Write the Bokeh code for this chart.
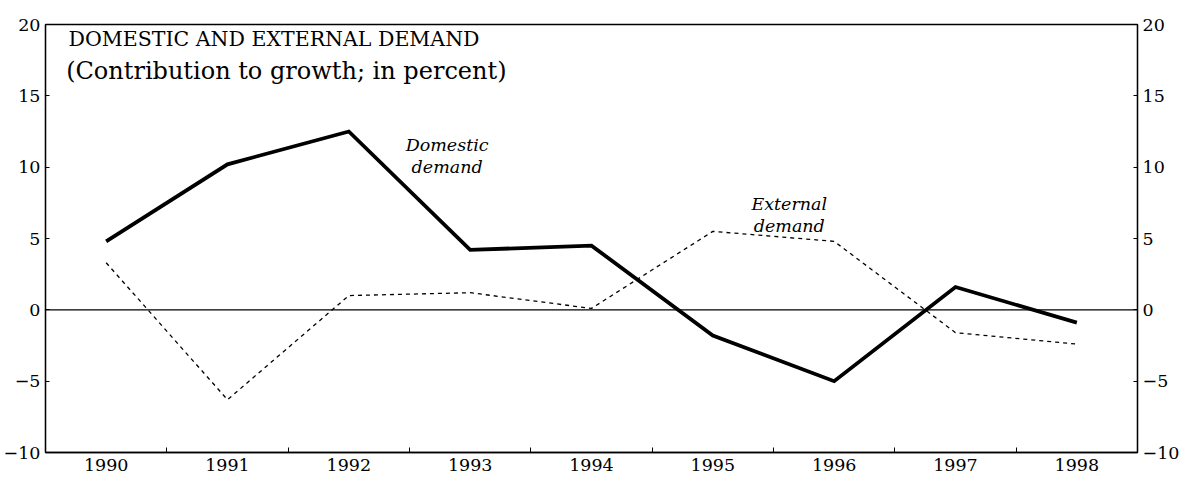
from bokeh.plotting import figure
from bokeh.models import Range1d, FixedTicker, LinearAxis, Label, Span
from bokeh.embed import file_html
from bokeh.resources import INLINE

# ---- data ----
years = [1990, 1991, 1992, 1993, 1994, 1995, 1996, 1997, 1998]
domestic = [4.8, 10.2, 12.5, 4.2, 4.5, -1.8, -5.0, 1.6, -0.9]
external = [3.3, -6.3, 1.0, 1.2, 0.1, 5.5, 4.8, -1.6, -2.4]
y_ticks = [-10, -5, 0, 5, 10, 15, 20]
year_bounds = [1990.5, 1991.5, 1992.5, 1993.5, 1994.5, 1995.5, 1996.5, 1997.5]

title_line1 = "DOMESTIC AND EXTERNAL DEMAND"
title_line2 = "(Contribution to growth; in percent)"

FONT = "DejaVu Serif"

p = figure(frame_width=1092, frame_height=428,
           x_range=Range1d(1989.5, 1998.5), y_range=Range1d(-10, 20),
           output_backend="svg", toolbar_location=None,
           min_border_left=41, min_border_right=34, min_border_top=24, min_border_bottom=32,
           background_fill_color="white", border_fill_color="white")

p.xgrid.grid_line_color = None
p.ygrid.grid_line_color = None
p.outline_line_color = "black"
p.outline_line_width = 1.3

# x axis
xa = p.xaxis[0]
xa.ticker = FixedTicker(ticks=years, minor_ticks=year_bounds)
xa.major_tick_in = 0
xa.major_tick_out = 0
xa.minor_tick_in = 5
xa.minor_tick_out = 0
xa.minor_tick_line_color = "black"
xa.major_label_standoff = 6
xa.axis_line_color = "black"
xa.axis_line_width = 1.3
xa.major_label_text_font = FONT
xa.major_label_text_font_size = "17.5px"
xa.major_label_text_color = "black"

def style_y(ax):
    ax.ticker = FixedTicker(ticks=y_ticks)
    ax.major_tick_in = 4
    ax.major_tick_out = 0
    ax.minor_tick_in = 0
    ax.minor_tick_out = 0
    ax.major_tick_line_color = "black"
    ax.axis_line_color = "black"
    ax.axis_line_width = 1.3
    ax.major_label_standoff = 5
    ax.major_label_text_font = FONT
    ax.major_label_text_font_size = "17.5px"
    ax.major_label_text_color = "black"

style_y(p.yaxis[0])
ry = LinearAxis()
style_y(ry)
p.add_layout(ry, "right")

# zero line
p.add_layout(Span(location=0, dimension="width", line_color="black", line_width=1.3))

# series
p.line(years, external, line_color="black", line_width=1.3, line_dash="4 4")
p.line(years, domestic, line_color="black", line_width=3.8, line_join="miter")

# title
p.add_layout(Label(x=1989.69, y=18.95, text=title_line1, text_font=FONT,
                   text_font_size="20.5px", text_color="black", text_baseline="alphabetic"))
p.add_layout(Label(x=1989.67, y=16.75, text=title_line2, text_font=FONT,
                   text_font_size="24px", text_color="black", text_baseline="alphabetic"))

# series labels
for txt, x, y in [("Domestic", 1992.81, 11.56), ("demand", 1992.81, 10.03),
                  ("External", 1995.63, 7.45), ("demand", 1995.63, 5.9)]:
    p.add_layout(Label(x=x, y=y, text=txt, text_font=FONT, text_font_style="italic",
                       text_font_size="17.5px", text_color="black",
                       text_align="center", text_baseline="alphabetic"))

open("out.html", "w").write(file_html(p, INLINE))
